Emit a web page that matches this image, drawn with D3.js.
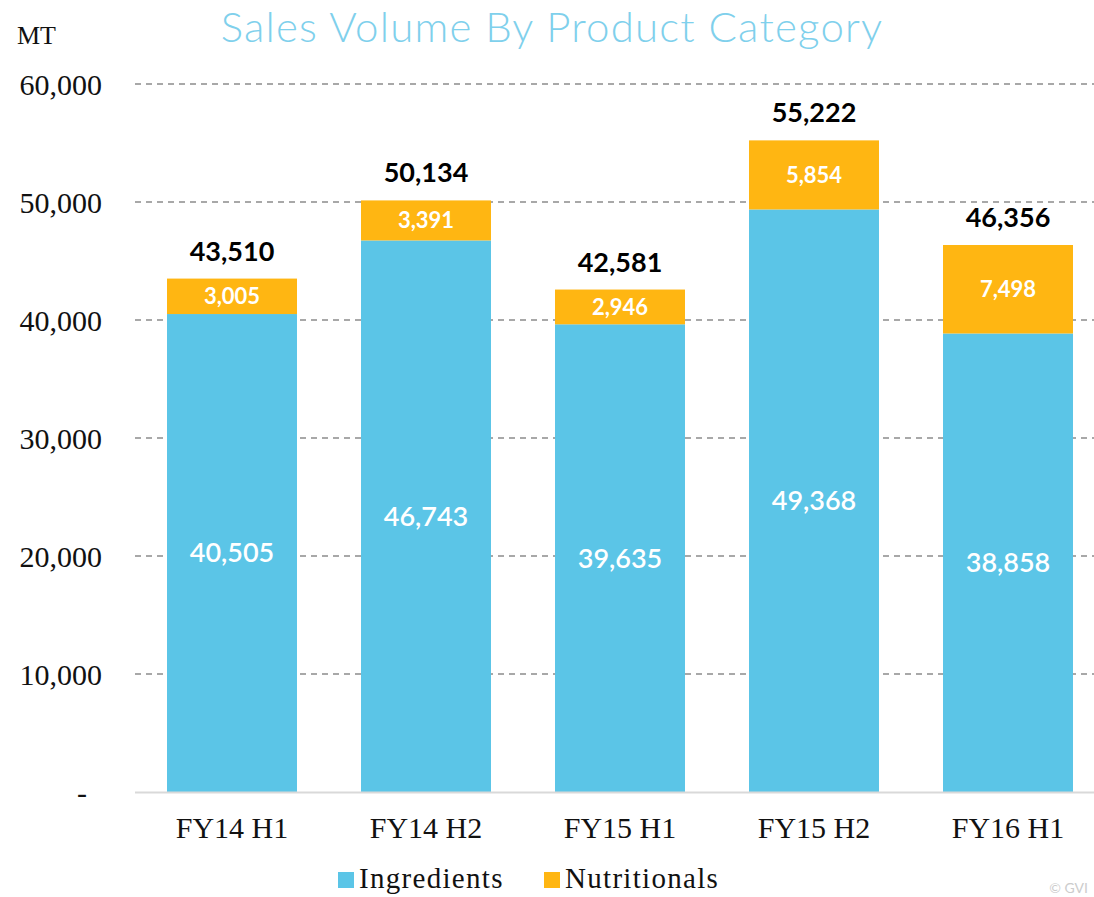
<!DOCTYPE html>
<html>
<head>
<meta charset="utf-8">
<script src="https://cdn.jsdelivr.net/npm/d3@7"></script>
<style>
  body { margin: 0; background: #fff; }
  #chart1 { width: 1094px; height: 897px; }
  .tick text { font-family: "Liberation Serif", serif; font-size: 30px; fill: #111; }
</style>
</head>
<body>
<div id="chart1"></div>
<script>

var categories = ["FY14 H1", "FY14 H2", "FY15 H1", "FY15 H2", "FY16 H1"];
var ingredients = [40505, 46743, 39635, 49368, 38858];
var nutritionals = [3005, 3391, 2946, 5854, 7498];
var totals = [43510, 50134, 42581, 55222, 46356];
var tickValues = [0, 10000, 20000, 30000, 40000, 50000, 60000];
var seriesNames = ["Ingredients", "Nutritionals"];
var colors = ["#5bc5e7", "#ffb612"];

var width = document.querySelector("#chart1").clientWidth;
var height = document.querySelector("#chart1").clientHeight;

var svg = d3.select("#chart1")
    .append("svg")
    .attr("width", width)
    .attr("height", height);

var rows = categories.map(function(c, i) {
    return { cat: c, Ingredients: ingredients[i], Nutritionals: nutritionals[i], total: totals[i] };
});

var stacked = d3.stack().keys(seriesNames)(rows);

var x = d3.scaleBand()
    .domain(categories)
    .range([135, 1105])
    .paddingInner(0.33)
    .paddingOuter(0.165);

var y = d3.scaleLinear()
    .domain([0, 60000])
    .range([792, 84]);

var fmt = d3.format(",");

// grid lines
svg.selectAll(".grid")
    .data(tickValues.slice(1))
    .enter().append("line")
        .attr("class", "grid")
        .attr("x1", 135)
        .attr("x2", width)
        .attr("y1", function(d) { return y(d); })
        .attr("y2", function(d) { return y(d); })
        .attr("stroke", "#8c8c8c")
        .attr("stroke-width", 1.5)
        .attr("stroke-dasharray", "6,5");

// y axis
var yAxis = svg.append("g")
    .attr("transform", "translate(102,0)")
    .call(d3.axisLeft(y).tickValues(tickValues).tickSize(0).tickPadding(0)
        .tickFormat(function(d) { return d === 0 ? "-" : fmt(d); }));
yAxis.select(".domain").remove();
yAxis.selectAll(".tick text").attr("dy", "0.35em");
yAxis.selectAll(".tick").filter(function(d) { return d === 0; })
    .select("text").attr("dx", -15);

// bars
var groups = svg.selectAll(".series")
    .data(stacked)
    .enter().append("g")
        .attr("class", "series")
        .attr("fill", function(d, i) { return colors[i]; });

groups.selectAll("rect")
    .data(function(d) { return d; })
    .enter().append("rect")
        .attr("x", function(d) { return x(d.data.cat); })
        .attr("width", x.bandwidth())
        .attr("y", function(d) { return y(d[1]); })
        .attr("height", function(d) { return y(d[0]) - y(d[1]); });

// baseline
svg.append("line")
    .attr("x1", 135).attr("x2", width)
    .attr("y1", y(0) + 0.5).attr("y2", y(0) + 0.5)
    .attr("stroke", "#d9d9d9").attr("stroke-width", 2);

// segment labels
svg.selectAll(".ingLabel")
    .data(stacked[0])
    .enter().append("text")
        .attr("x", function(d) { return x(d.data.cat) + x.bandwidth() / 2; })
        .attr("y", function(d) { return (y(d[0]) + y(d[1])) / 2; })
        .attr("dy", "0.35em")
        .attr("text-anchor", "middle")
        .attr("font-family", "Lato, sans-serif")
        .attr("font-weight", 600)
        .attr("font-size", 27)
        .attr("fill", "#fff")
        .text(function(d) { return fmt(d.data.Ingredients); });

svg.selectAll(".nutLabel")
    .data(stacked[1])
    .enter().append("text")
        .attr("x", function(d) { return x(d.data.cat) + x.bandwidth() / 2; })
        .attr("y", function(d) { return (y(d[0]) + y(d[1])) / 2; })
        .attr("dy", "0.35em")
        .attr("text-anchor", "middle")
        .attr("font-family", "Lato, sans-serif")
        .attr("font-weight", "bold")
        .attr("font-size", 22)
        .attr("fill", "#fff")
        .text(function(d) { return fmt(d.data.Nutritionals); });

// totals
svg.selectAll(".totLabel")
    .data(rows)
    .enter().append("text")
        .attr("x", function(d) { return x(d.cat) + x.bandwidth() / 2; })
        .attr("y", function(d) { return y(d.total) - 18; })
        .attr("text-anchor", "middle")
        .attr("font-family", "Lato, sans-serif")
        .attr("font-weight", "bold")
        .attr("font-size", 27)
        .attr("fill", "#000")
        .text(function(d) { return fmt(d.total); });

// category labels
svg.selectAll(".catLabel")
    .data(categories)
    .enter().append("text")
        .attr("x", function(d) { return x(d) + x.bandwidth() / 2; })
        .attr("y", 838)
        .attr("text-anchor", "middle")
        .attr("font-family", "Liberation Serif, serif")
        .attr("font-size", 30)
        .attr("fill", "#111")
        .text(function(d) { return d; });

// unit label
svg.append("text")
    .attr("x", 17).attr("y", 44)
    .attr("font-family", "Liberation Serif, serif")
    .attr("font-size", 26)
    .attr("fill", "#111")
    .text("MT");

// title
svg.append("text")
    .attr("x", 552).attr("y", 42)
    .attr("text-anchor", "middle")
    .attr("font-family", "Lato, sans-serif")
    .attr("font-weight", 300)
    .attr("font-size", 42)
    .attr("letter-spacing", 1.2)
    .attr("fill", "#7fd0ec")
    .text("Sales Volume By Product Category");

// legend
var legendX = [338, 544];
var legend = svg.selectAll(".legend")
    .data(seriesNames)
    .enter().append("g")
        .attr("transform", function(d, i) { return "translate(" + legendX[i] + ",872)"; });
legend.append("rect")
    .attr("width", 16).attr("height", 16)
    .attr("fill", function(d, i) { return colors[i]; });
legend.append("text")
    .attr("x", 21).attr("y", 16)
    .attr("font-family", "Liberation Serif, serif")
    .attr("font-size", 29)
    .attr("letter-spacing", 1.3)
    .attr("fill", "#111")
    .text(function(d) { return d; });

// faint watermark at the corner
svg.append("text")
    .attr("x", 1088).attr("y", 893)
    .attr("text-anchor", "end")
    .attr("font-family", "Lato, sans-serif")
    .attr("font-size", 14)
    .attr("fill", "#ccc")
    .text("© GVI");

</script>
</body>
</html>
